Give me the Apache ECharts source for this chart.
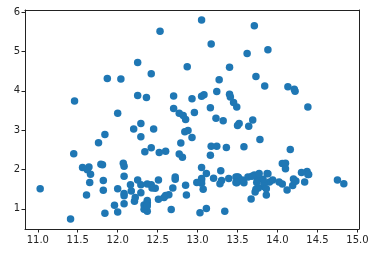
<!DOCTYPE html>
<html><head><meta charset="utf-8">
<script src="https://cdn.jsdelivr.net/npm/echarts@6/dist/echarts.min.js"></script>
<style>html,body{margin:0;padding:0;background:#fff}#c{width:387px;height:271px}</style>
</head><body><div id="c"></div>
<script>
const alcohol = [14.23,13.2,13.16,14.37,13.24,14.2,14.39,14.06,14.83,13.86,14.1,14.12,13.75,14.75,14.38,13.63,14.3,13.83,14.19,13.64,14.06,12.93,13.71,12.85,13.5,13.05,13.39,13.3,13.87,14.02,13.73,13.58,13.68,13.76,13.51,13.48,13.28,13.05,13.07,14.22,13.56,13.41,13.88,13.24,13.05,14.21,14.38,13.9,14.1,13.94,13.05,13.83,13.82,13.77,13.74,13.56,14.22,13.29,13.72,
12.37,12.33,12.64,13.67,12.37,12.17,12.37,13.11,12.37,13.34,12.21,12.29,13.86,13.49,12.99,11.96,11.66,13.03,11.84,12.33,12.7,12.0,12.72,12.08,13.05,11.84,12.67,12.16,11.65,11.64,12.08,12.08,12.0,12.69,12.29,11.62,12.47,11.81,12.29,12.37,12.29,12.08,12.6,12.34,11.82,12.51,12.42,12.25,12.72,12.22,11.61,11.46,12.52,11.76,11.41,12.08,11.03,11.82,12.42,12.77,12.0,11.45,11.56,12.42,13.05,11.87,12.07,12.43,11.79,12.37,12.04,
12.86,12.88,12.81,12.7,12.51,12.6,12.25,12.53,13.49,12.84,12.93,13.36,13.52,13.62,12.25,13.16,13.88,12.87,13.32,13.08,13.5,12.79,13.11,13.23,12.58,13.17,13.84,12.45,14.34,13.48,12.36,13.69,12.85,12.96,13.78,13.73,13.45,12.82,13.58,13.4,12.2,12.77,14.16,13.71,13.4,13.27,13.17,14.13];
const malicAcid = [1.71,1.78,2.36,1.95,2.59,1.76,1.87,2.15,1.64,1.35,2.16,1.48,1.73,1.73,1.87,1.81,1.92,1.57,1.59,3.1,1.63,3.8,1.86,1.6,1.81,2.05,1.77,1.72,1.9,1.68,1.5,1.66,1.83,1.53,1.8,1.81,1.64,1.65,1.5,3.99,1.71,3.84,1.89,3.98,1.77,4.04,3.59,1.68,2.02,1.73,1.73,1.65,1.75,1.9,1.67,1.73,1.7,1.97,1.43,
0.94,1.1,1.36,1.25,1.13,1.45,1.21,1.01,1.17,0.94,1.19,1.61,1.51,1.66,1.67,1.09,1.88,0.9,2.89,0.99,3.87,0.92,1.81,1.13,3.86,0.89,0.98,1.61,1.67,2.06,1.33,1.83,1.51,1.53,2.83,1.99,1.52,2.12,1.41,1.07,3.17,2.08,1.34,2.45,1.72,1.73,2.55,1.73,1.75,1.29,1.35,3.74,2.43,2.68,0.74,1.39,1.51,1.47,1.61,3.43,3.43,2.4,2.05,4.43,5.8,4.31,2.16,1.53,2.13,1.63,4.3,
1.35,2.99,2.31,3.55,1.24,2.46,4.72,5.51,3.59,2.96,2.81,2.56,3.17,4.95,3.88,3.57,5.04,4.61,3.24,3.9,3.12,2.67,1.9,3.3,1.29,5.19,4.12,3.03,1.68,1.67,3.83,3.26,3.27,3.45,2.76,4.36,3.7,3.37,2.58,4.6,3.03,2.39,2.51,5.65,3.91,4.28,2.59,4.1];
const xTicks = [11.0,11.5,12.0,12.5,13.0,13.5,14.0,14.5,15.0];
const yTicks = [1,2,3,4,5,6];

const pts = alcohol.map((a,i)=>[a, malicAcid[i]]);
const chart = echarts.init(document.getElementById('c'), null, {renderer:'canvas'});
const line = {show:true,onZero:false,lineStyle:{color:'#222',width:1}};
const tick = {show:true,inside:false,length:3.5,lineStyle:{color:'#222',width:1}};
const XMIN=10.84, XMAX=15.02, YMIN=0.487, YMAX=6.053;
chart.setOption({
  animation:false,
  backgroundColor:'#fff',
  grid:{left:25,right:28,top:10,bottom:42,show:false},
  xAxis:[{type:'value',min:XMIN,max:XMAX,position:'bottom',
    axisLine:line,splitLine:{show:false},
    axisTick:Object.assign({customValues:xTicks},tick),
    axisLabel:{customValues:xTicks,formatter:v=>v.toFixed(1),color:'#222',fontSize:10,fontFamily:'DejaVu Sans',margin:6}},
    {type:'value',min:XMIN,max:XMAX,position:'top',axisLine:line,axisTick:{show:false},axisLabel:{show:false},splitLine:{show:false}}],
  yAxis:[{type:'value',min:YMIN,max:YMAX,position:'left',
    axisLine:line,splitLine:{show:false},
    axisTick:Object.assign({customValues:yTicks},tick),
    axisLabel:{customValues:yTicks,formatter:v=>String(v),color:'#222',fontSize:10,fontFamily:'DejaVu Sans',margin:5}},
    {type:'value',min:YMIN,max:YMAX,position:'right',axisLine:line,axisTick:{show:false},axisLabel:{show:false},splitLine:{show:false}}],
  series:[{type:'scatter',data:pts,symbolSize:7.5,itemStyle:{color:'#1f77b4',opacity:1}}]
});
</script></body></html>
